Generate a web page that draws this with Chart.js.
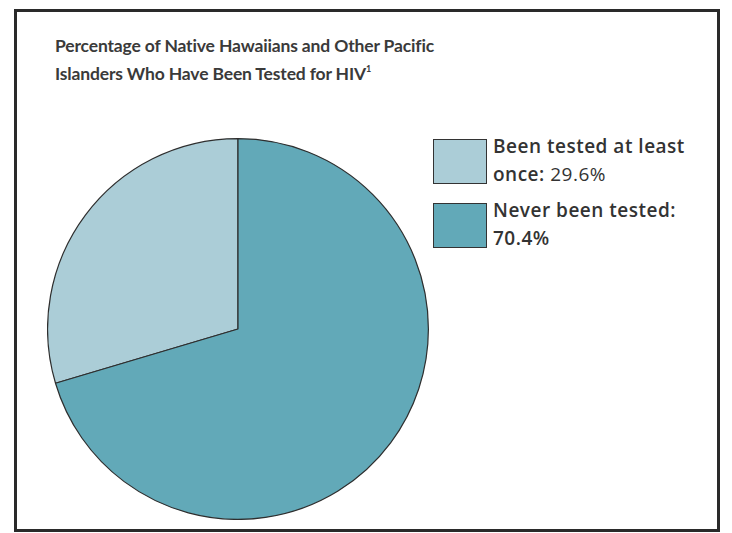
<!DOCTYPE html>
<html>
<head>
<meta charset="utf-8">
<script src="https://cdn.jsdelivr.net/npm/chart.js@4"></script>
<style>
  html, body { margin: 0; padding: 0; background: #fff; }
  body { width: 732px; height: 533px; position: relative; overflow: hidden; font-family: 'Open Sans', 'Lato', sans-serif; }
  .frame { position: absolute; left: 14px; top: 9px; width: 700px; height: 517px; border: 3px solid #2a2a2a; }
  .title { position: absolute; left: 55px; top: 32px; font-family: 'Lato', 'Open Sans', sans-serif; font-size: 17.5px; font-weight: 700; color: #3a3a3a; line-height: 28px; letter-spacing: -0.15px; }
  .title sup { font-size: 9px; vertical-align: 8px; line-height: 0; }
  #pieWrap { position: absolute; left: 47px; top: 138px; width: 382px; height: 382px; }
  #legend { position: absolute; left: 433px; top: 139px; }
  .legend-item { position: relative; height: 64px; }
  .legend-box { position: absolute; left: 0; top: 0; width: 52px; height: 43px; border: 1px solid #333; }
  .legend-text { position: absolute; left: 60px; top: -7px; width: 240px; font-size: 19px; line-height: 28px; color: #333; font-weight: 600; letter-spacing: 0.5px; }
  .legend-text .val { font-weight: 400; }
</style>
</head>
<body>
<div class="frame"></div>
<div class="title">Percentage of Native Hawaiians and Other Pacific<br>Islanders Who Have Been Tested for HIV<sup>1</sup></div>
<div id="pieWrap"><canvas id="pieChart"></canvas></div>
<div id="legend"></div>
<script>
// legend text, values and fills
const labels     = ['Been tested at least once:', 'Never been tested:'];
const labelLines = [['Been tested at least', 'once:'], ['Never been tested:', '']];
const values     = [29.6, 70.4];
const valueBold  = [false, true];
const colors     = ['#abcdd7', '#62a9b8'];

// light slice ends at 12 o'clock, dark slice runs clockwise from there
const rotation = -values[0] / 100 * 360;

new Chart(document.getElementById('pieChart'), {
  type: 'pie',
  data: {
    labels,
    datasets: [{ data: values, backgroundColor: colors, borderColor: '#2e2e2e', borderWidth: 1.2 }]
  },
  options: {
    responsive: true, maintainAspectRatio: false, animation: false,
    rotation,
    layout: { padding: 0 },
    plugins: { legend: { display: false }, tooltip: { enabled: false } }
  }
});

const legendEl = document.getElementById('legend');
legendEl.innerHTML = labels.map((l, i) => {
  const [a, b] = labelLines[i];
  const val = `<span class="${valueBold[i] ? '' : 'val'}">${values[i].toFixed(1)}%</span>`;
  const second = b ? `${b} ${val}` : val;
  return `<div class="legend-item"><span class="legend-box" style="background:${colors[i]}"></span>` +
         `<div class="legend-text">${a}<br>${second}</div></div>`;
}).join('');
</script>
</body>
</html>
